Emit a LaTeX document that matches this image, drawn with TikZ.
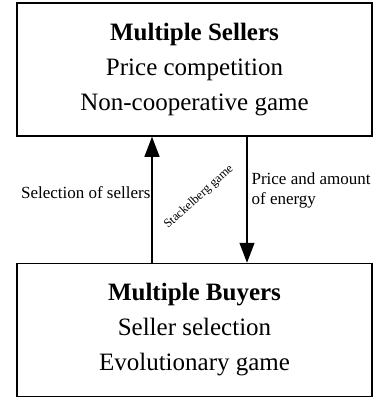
\documentclass[tikz,border=0pt]{standalone}
\usepackage{fontspec}
\setmainfont{Liberation Serif}
\usetikzlibrary{positioning,arrows.meta}

\begin{document}
\begin{tikzpicture}[
    x=1pt, y=-1pt,
    node distance=126pt,
    gamebox/.style={
        rectangle, draw=black, line width=1.5pt, minimum width=355pt,
        minimum height=133pt, align=center,
        font=\fontsize{25}{35}\selectfont
      },
    flowlbl/.style={
        font=\fontsize{17}{20}\selectfont, inner sep=1pt, align=left
      },
    gamelbl/.style={
        font=\fontsize{12.4}{14}\selectfont, rotate=42, inner sep=0pt
      },
  ]
  \useasboundingbox (0,0) rectangle (375,402);
  \node[gamebox](sellers) at (194.5,69.5)
    {\textbf{Multiple Sellers}\\Price competition\\Non-cooperative game};
  \node[gamebox](buyers) [below=of sellers]
    {\textbf{Multiple Buyers}\\Seller selection\\Evolutionary game};

  \coordinate (up) at (152,0);
  \coordinate (down) at (247,0);

  \path[-{Triangle[length=20pt,width=15pt]}, line width=1.2pt]
    (buyers.north -| up) edge node[flowlbl, left, pos=0.56] {Selection of sellers} (sellers.south -| up)
    (sellers.south -| down) edge node[flowlbl, right, pos=0.43, xshift=3pt] {Price and amount\\of energy} (buyers.north -| down)
  ;
  \node[gamelbl](stack) at (199,197) {Stackelberg game};
\end{tikzpicture}
\end{document}
